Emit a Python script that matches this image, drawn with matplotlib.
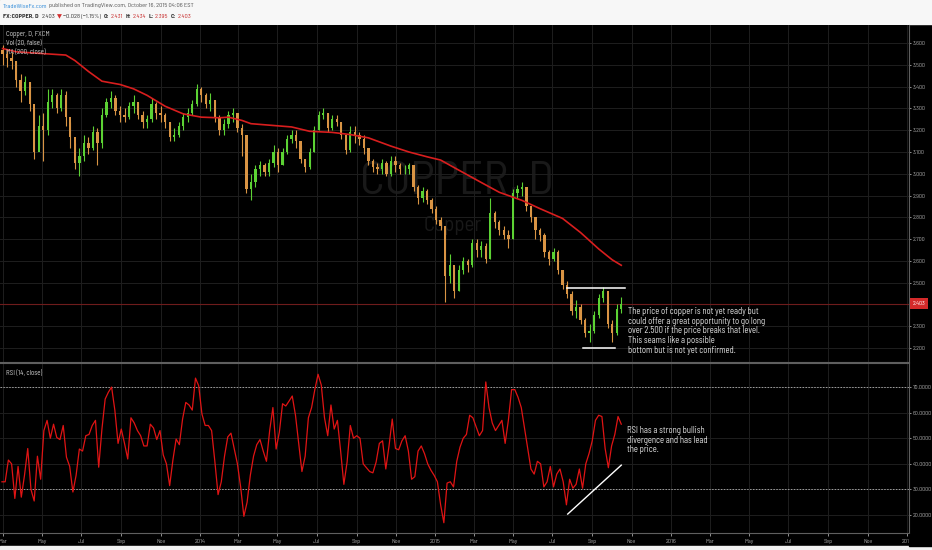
import matplotlib
matplotlib.use('Agg')
import matplotlib.pyplot as plt
import matplotlib.dates as mdates
from matplotlib.patches import Rectangle
from matplotlib.ticker import FuncFormatter
import numpy as np
import pandas as pd

plt.rcParams['font.family'] = ['Barlow Semi Condensed', 'DejaVu Sans']

W, H = 932, 550

# weekly candles (Mar 2013 - Oct 16 2015)
close = [3.55, 3.53, 3.52, 3.43, 3.38, 3.42, 3.32, 3.10, 3.22, 3.20,
         3.33, 3.36, 3.30, 3.36, 3.26, 3.17, 3.05, 3.08, 3.14, 3.12,
         3.19, 3.14, 3.27, 3.33, 3.35, 3.29, 3.27, 3.26, 3.31, 3.33,
         3.27, 3.24, 3.25, 3.32, 3.28, 3.27, 3.24, 3.17, 3.18, 3.22,
         3.26, 3.28, 3.32, 3.39, 3.36, 3.32, 3.34, 3.26, 3.20, 3.23,
         3.27, 3.28, 3.21, 3.18, 2.93, 2.96, 3.02, 3.04, 3.01, 3.05,
         3.10, 3.04, 3.10, 3.16, 3.18, 3.15, 3.07, 3.03, 3.10, 3.20,
         3.27, 3.28, 3.21, 3.25, 3.24, 3.18, 3.11, 3.19, 3.18, 3.16,
         3.12, 3.06, 3.03, 3.02, 3.05, 3.00, 3.06, 3.04, 3.02, 3.02,
         3.04, 2.94, 2.89, 2.92, 2.88, 2.84, 2.79, 2.76, 2.53, 2.58,
         2.46, 2.56, 2.60, 2.58, 2.68, 2.65, 2.67, 2.61, 2.82, 2.78,
         2.74, 2.72, 2.70, 2.91, 2.93, 2.94, 2.85, 2.80, 2.74, 2.72,
         2.64, 2.61, 2.64, 2.56, 2.49, 2.45, 2.37, 2.39, 2.33, 2.27,
         2.28, 2.35, 2.43, 2.46, 2.31, 2.27, 2.38, 2.403]
high = [3.59, 3.57, 3.56, 3.52, 3.46, 3.45, 3.42, 3.30, 3.27, 3.28,
        3.39, 3.39, 3.37, 3.39, 3.38, 3.24, 3.14, 3.12, 3.18, 3.17,
        3.22, 3.21, 3.30, 3.35, 3.38, 3.36, 3.31, 3.30, 3.33, 3.36,
        3.33, 3.29, 3.27, 3.35, 3.33, 3.31, 3.28, 3.24, 3.21, 3.24,
        3.28, 3.30, 3.34, 3.41, 3.40, 3.37, 3.37, 3.34, 3.27, 3.25,
        3.29, 3.30, 3.28, 3.23, 3.10, 3.00, 3.04, 3.06, 3.05, 3.07,
        3.13, 3.12, 3.12, 3.18, 3.20, 3.20, 3.13, 3.07, 3.12, 3.22,
        3.29, 3.30, 3.28, 3.27, 3.27, 3.24, 3.18, 3.22, 3.22, 3.19,
        3.18, 3.12, 3.07, 3.05, 3.07, 3.06, 3.08, 3.08, 3.05, 3.04,
        3.05, 3.04, 2.95, 2.94, 2.93, 2.89, 2.85, 2.80, 2.76, 2.63,
        2.57, 2.58, 2.62, 2.61, 2.70, 2.70, 2.69, 2.68, 2.89, 2.83,
        2.79, 2.76, 2.74, 2.93, 2.95, 2.96, 2.93, 2.85, 2.80, 2.75,
        2.73, 2.65, 2.66, 2.65, 2.56, 2.51, 2.46, 2.42, 2.40, 2.34,
        2.31, 2.37, 2.45, 2.48, 2.44, 2.33, 2.40, 2.434]
low = [3.50, 3.49, 3.48, 3.40, 3.33, 3.36, 3.29, 3.07, 3.12, 3.06,
       3.18, 3.30, 3.28, 3.29, 3.22, 3.12, 3.02, 2.99, 3.06, 3.09,
       3.11, 3.04, 3.12, 3.26, 3.30, 3.27, 3.24, 3.24, 3.25, 3.28,
       3.25, 3.21, 3.21, 3.24, 3.25, 3.24, 3.21, 3.15, 3.15, 3.17,
       3.20, 3.24, 3.27, 3.31, 3.33, 3.30, 3.29, 3.24, 3.18, 3.18,
       3.21, 3.24, 3.19, 3.08, 2.91, 2.88, 2.94, 2.99, 2.99, 2.99,
       3.03, 3.01, 3.04, 3.09, 3.14, 3.12, 3.05, 3.01, 3.02, 3.10,
       3.20, 3.25, 3.19, 3.20, 3.22, 3.16, 3.09, 3.10, 3.14, 3.13,
       3.09, 3.04, 3.01, 3.00, 3.00, 2.99, 2.99, 3.01, 3.00, 3.00,
       3.00, 2.92, 2.86, 2.87, 2.86, 2.82, 2.77, 2.74, 2.41, 2.50,
       2.43, 2.46, 2.54, 2.55, 2.57, 2.62, 2.62, 2.59, 2.61, 2.75,
       2.72, 2.70, 2.66, 2.70, 2.89, 2.90, 2.83, 2.78, 2.70, 2.69,
       2.62, 2.58, 2.60, 2.54, 2.47, 2.43, 2.35, 2.34, 2.31, 2.25,
       2.23, 2.27, 2.34, 2.41, 2.29, 2.23, 2.26, 2.36]
first_open = 3.57

# MA(200) read at some of the weeks
ma_week = [0, 3, 8, 14, 16, 19, 22, 26, 29, 32, 36, 40, 44, 48, 50, 53, 55,
           61, 64, 68, 73, 77, 81, 86, 90, 94, 97, 101, 106, 110, 115, 119,
           124, 128, 132, 135, 137]
ma_value = [3.575, 3.56, 3.553, 3.545, 3.52, 3.47, 3.425, 3.41, 3.39, 3.36,
            3.31, 3.275, 3.26, 3.257, 3.26, 3.245, 3.23, 3.22, 3.215, 3.195,
            3.19, 3.18, 3.165, 3.127, 3.10, 3.078, 3.063, 3.017, 2.96, 2.915,
            2.878, 2.84, 2.795, 2.73, 2.655, 2.605, 2.58]

# RSI(14) every 5 days, ending Oct 16 2015
rsi = [33, 33, 41.5, 40, 26.5, 39, 27, 35.6, 46, 30,
       25.5, 43, 34, 53, 57, 50, 55.5, 50.3, 49.5, 55,
       42.6, 39, 29, 35.6, 45.8, 45, 51, 51.5, 55, 57,
       38.7, 53.6, 65.3, 68, 70, 61, 48, 53.6, 48, 41.9,
       58, 56, 53, 51, 47, 47, 55.5, 54, 49.5, 53,
       43.5, 40, 31.5, 41.5, 49.7, 47.5, 57.5, 64, 63, 61,
       73.5, 70.5, 59.5, 55, 55, 53, 41, 28, 33, 43,
       50.5, 52, 46, 40, 31, 19.5, 25, 35.5, 43, 47.5,
       49.5, 45, 41, 53, 62, 45.8, 52.4, 63.5, 62.6, 64.5,
       66.5, 59, 48, 37, 43, 58, 62, 69, 75, 70.8,
       58, 51, 63, 53.6, 57, 45, 32, 40.7, 55, 50,
       51, 50, 40, 38.5, 37, 36.5, 40.7, 48, 49, 38,
       47, 57.5, 46, 45.5, 49, 51, 45, 34, 35, 45,
       47, 44, 40, 37.5, 35.5, 33, 24, 17, 32.5, 33,
       31, 41, 46.5, 50, 51.5, 59, 58, 54.5, 51, 53,
       72, 62, 56, 53, 55, 57, 48, 57, 69, 69,
       66, 62, 54, 46, 38, 36, 41, 40, 31, 33,
       39, 31, 36, 38, 33, 24, 34, 30.5, 32, 38,
       30.5, 40, 44, 49, 57, 59, 58.5, 46, 38.5, 47,
       51.5, 58.5, 55.5]

price_ticks = [2.2, 2.3, 2.4, 2.5, 2.6, 2.7, 2.8, 2.9, 3.0, 3.1, 3.2, 3.3, 3.4, 3.5, 3.6]
rsi_ticks = [20, 30, 40, 50, 60, 70]
last_price = 2.403

weeks = pd.date_range('2013-03-01', periods=len(close), freq='7D')
rsi_days = pd.date_range(end='2015-10-16', periods=len(rsi), freq='5D')
xw = mdates.date2num(weeks.to_pydatetime())
xr = mdates.date2num(rsi_days.to_pydatetime())
opens = np.array([first_open] + close[:-1])
close_a = np.array(close)


def fx(x):
    return x / W


def fy(y):
    return 1 - y / H


d = mdates.datestr2num

fig = plt.figure(figsize=(W / 100, H / 100), dpi=100, facecolor='black')
bg = fig.add_axes([0, 0, 1, 1])
bg.set_axis_off()
bg.set_xlim(0, W)
bg.set_ylim(H, 0)
bg.add_patch(Rectangle((0, 0), W, 24, color='#f7f7f7'))
bg.add_patch(Rectangle((0, 546), W, 4, color='#f2f2f2'))

ax = fig.add_axes([0, fy(362), fx(909), fy(25) - fy(362)])
ax2 = fig.add_axes([0, fy(533), fx(909), fy(363) - fy(533)], sharex=ax)

for a in (ax, ax2):
    a.set_facecolor('black')
    a.grid(True, color='#1e1e1e', lw=0.7)
    a.set_axisbelow(True)
    a.yaxis.tick_right()
    a.tick_params(colors='#a8a8a8', labelsize=4.3, length=1.5, width=0.6, pad=1.0)
    for s in a.spines.values():
        s.set_color('#5f5f5f')
        s.set_linewidth(0.8)
    a.spines['left'].set_visible(False)
ax.spines['top'].set_visible(False)

# price pane
ax.text(0.502, 0.534, 'COPPER, D', transform=ax.transAxes, fontsize=34,
        color='#191919', ha='center', va='center', zorder=0.5)
ax.text(0.498, 0.404, 'Copper', transform=ax.transAxes, fontsize=15,
        color='#191919', ha='center', va='center', zorder=0.5)

ax.axhline(last_price, color='#6e1c1c', lw=0.8, zorder=1)
up = close_a >= opens
colors = np.where(up, '#5cd234', '#d99444')
ax.vlines(xw, low, high, color=colors, lw=0.8, zorder=2)
ax.bar(xw, close_a - opens, bottom=opens, width=3.6,
       color=colors, linewidth=0, zorder=3)
ax.plot(xw[ma_week], ma_value, color='#d81e1e', lw=1.2, zorder=4)

ax.plot([d('2015-07-24'), d('2015-10-22')], [2.475, 2.475], color='white', lw=1.1, zorder=5)
ax.plot([d('2015-08-18'), d('2015-10-07')], [2.20, 2.20], color='white', lw=1.1, zorder=5)

ax.set_ylim(2.136, 3.683)
ax.set_yticks(price_ticks)
ax.yaxis.set_major_formatter(FuncFormatter(lambda v, p: '%.3f' % v))
ax.text(1.004, last_price, '2.403', transform=ax.get_yaxis_transform(), color='white',
        fontsize=4.3, va='center', ha='left', clip_on=False, zorder=6,
        bbox=dict(boxstyle='square,pad=0.5', fc='#d42a2a', ec='none'))
ax.tick_params(axis='x', length=0, labelbottom=False)

# RSI pane
ax2.axhline(70, color='#a0a0a0', lw=0.7, ls=(0, (1.5, 1.5)))
ax2.axhline(30, color='#a0a0a0', lw=0.7, ls=(0, (1.5, 1.5)))
ax2.plot(xr, rsi, color='#e01414', lw=0.9, zorder=3)
ax2.plot([d('2015-07-25'), d('2015-10-16')], [20.4, 39.5], color='white', lw=1.0, zorder=4)
ax2.set_ylim(13.0, 79.4)
ax2.set_yticks(rsi_ticks)
ax2.yaxis.set_major_formatter(FuncFormatter(lambda v, p: '%.4f' % v))

ax2.set_xlim(d('2013-02-25'), d('2017-01-04'))
ax2.xaxis.set_major_locator(mdates.MonthLocator(bymonth=[1, 3, 5, 7, 9, 11]))


def month_label(v, p):
    t = mdates.num2date(v)
    return str(t.year) if t.month == 1 else t.strftime('%b')


ax2.xaxis.set_major_formatter(FuncFormatter(month_label))
ax2.tick_params(axis='x', labelsize=4.5, length=2, pad=2)

# hide the part of the last date label under the price scale
fig.add_artist(Rectangle((fx(909), fy(546)), fx(23), fy(534) - fy(546),
                         transform=fig.transFigure, color='black', zorder=10))

# indicator titles
fig.text(fx(6), fy(34), 'Copper, D, FXCM', color='#cfcfcf', fontsize=5.0, va='center')
fig.text(fx(6), fy(43.5), 'Vol (20, false)', color='#cfcfcf', fontsize=5.0, va='center')
fig.text(fx(6), fy(52.5), 'MA (200, close)', color='#cfcfcf', fontsize=5.0, va='center')
fig.text(fx(6), fy(374), 'RSI (14, close)', color='#cfcfcf', fontsize=5.0, va='center')

# comments
fig.text(fx(628), fy(307),
         'The price of copper is not yet ready but\n'
         'could offer a great opportunity to go long\n'
         'over 2.500 if the price breaks that level.\n'
         'This seams like a possible\n'
         'bottom but is not yet confirmed.',
         color='#e6e6e6', fontsize=6.2, linespacing=1.1, va='top', ha='left')
fig.text(fx(627), fy(426),
         'RSI has a strong bullish\n'
         'divergence and has lead\n'
         'the price.',
         color='#e6e6e6', fontsize=6.2, linespacing=1.1, va='top', ha='left')

# header
t = bg.text(3, 6, 'TradeWiseFx.com', color='#2f8ad8', fontsize=4.6, va='center')
bg.annotate('published on TradingView.com, October 16, 2015 04:06 EST', xy=(1, 0),
            xycoords=t, xytext=(1.2, 0), textcoords='offset points',
            va='bottom', color='#555555', fontsize=4.6)

parts = [('FX:COPPER, D', '#333333', 'bold', 0),
         ('2.403', '#333333', 'normal', 2.5),
         ('\u25bc', '#d32f2f', 'normal', 0.8),
         ('\u22120.028 (\u22121.15%)', '#333333', 'normal', 0.8),
         ('O:', '#333333', 'bold', 2.5),
         ('2.431', '#c62828', 'normal', 0.8),
         ('H:', '#333333', 'bold', 1.8),
         ('2.434', '#c62828', 'normal', 0.8),
         ('L:', '#333333', 'bold', 1.8),
         ('2.395', '#c62828', 'normal', 0.8),
         ('C:', '#333333', 'bold', 1.8),
         ('2.403', '#c62828', 'normal', 0.8)]
t = None
for s, c, w, gap in parts:
    if t is None:
        t = bg.text(3, 16.5, s, color=c, fontsize=4.6, weight=w, va='center')
    else:
        t = bg.annotate(s, xy=(1, 0), xycoords=t, xytext=(gap, 0),
                        textcoords='offset points', va='bottom',
                        color=c, fontsize=4.6, weight=w)

fig.savefig('out.png', dpi=100, facecolor=fig.get_facecolor())
